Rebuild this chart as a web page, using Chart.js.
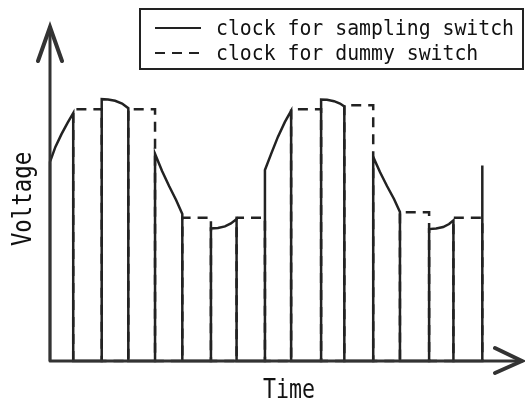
<!DOCTYPE html>
<html>
<head>
    <title>Sampling and dummy switch clocks</title>
    <script src="https://cdn.jsdelivr.net/npm/chart.js"></script>
    <style>
        body { margin: 0; background: #fff; }
    </style>
</head>
<body>
    <canvas id="myChart" width="525" height="404"></canvas>
    <script>
        // sampling switch clock: time points and held voltage of each pulse top
        var samplingTimes = [
            [0, 0.2, 0.43, 0.65, 0.86],
            [1.915, 2.15, 2.41, 2.67, 2.9],
            [3.89, 4.15, 4.41, 4.67, 4.9],
            [5.96, 6.22, 6.48, 6.7, 6.91],
            [7.96, 8.19, 8.44, 8.7, 8.93],
            [10.04, 10.26, 10.52, 10.74, 10.9],
            [11.97, 12.22, 12.48, 12.74, 12.96],
            [14.04, 14.3, 14.56, 14.78, 14.94],
            [16.01]
        ];
        var samplingTops = [
            [5.96, 6.41, 6.8, 7.13, 7.42],
            [7.84, 7.83, 7.79, 7.71, 7.57],
            [6.2, 5.69, 5.24, 4.82, 4.4],
            [3.97, 3.98, 4.03, 4.12, 4.25],
            [5.72, 6.2, 6.71, 7.16, 7.49],
            [7.83, 7.82, 7.78, 7.71, 7.62],
            [6.11, 5.66, 5.24, 4.85, 4.46],
            [3.95, 3.97, 4.01, 4.1, 4.21],
            [5.85]
        ];

        // dummy switch clock: flat pulses
        var dummyStart = [0.86, 2.9, 4.9, 6.91, 8.93, 10.9, 12.96, 14.94];
        var dummyEnd   = [1.915, 3.89, 5.96, 7.96, 10.04, 11.97, 14.04, 16.01];
        var dummyLevel = [7.54, 7.54, 4.29, 4.29, 7.54, 7.66, 4.45, 4.29];

        var seriesLabels = ['clock for sampling switch', 'clock for dummy switch'];
        var axisTitles = { x: 'Time', y: 'Voltage' };
        var timeMax = 17.48, voltMax = 10;

        var samplingData = [];
        samplingTimes.forEach(function(ts, i) {
            samplingData.push({ x: ts[0], y: 0 });
            ts.forEach(function(t, j) { samplingData.push({ x: t, y: samplingTops[i][j] }); });
            if (i < samplingTimes.length - 1) samplingData.push({ x: ts[ts.length - 1], y: 0 });
        });

        var dummyData = [];
        dummyStart.forEach(function(s, i) {
            dummyData.push({ x: s, y: 0 }, { x: s, y: dummyLevel[i] },
                           { x: dummyEnd[i], y: dummyLevel[i] }, { x: dummyEnd[i], y: 0 });
        });

        var ink = '#222';
        var mono = '"DejaVu Sans Mono", "Liberation Mono", monospace';

        function squeezedText(ctx, text, x, y, size, sx, rot) {
            ctx.save();
            ctx.translate(x, y);
            if (rot) ctx.rotate(rot);
            ctx.scale(sx, 1);
            ctx.font = size + 'px ' + mono;
            ctx.fillText(text, 0, 0);
            ctx.restore();
        }

        // axes with arrow heads, axis titles and the boxed legend
        var decor = {
            id: 'decor',
            afterDatasetsDraw: function(chart) {
                var ctx = chart.ctx;
                var xs = chart.scales.x, ys = chart.scales.y;
                var x0 = xs.getPixelForValue(0), y0 = ys.getPixelForValue(0);
                var xEnd = xs.getPixelForValue(timeMax), yEnd = ys.getPixelForValue(voltMax);

                ctx.save();
                ctx.strokeStyle = '#333';
                ctx.lineCap = 'round';
                ctx.lineWidth = 3;
                ctx.beginPath();
                ctx.moveTo(x0, y0); ctx.lineTo(x0, yEnd);
                ctx.moveTo(x0, y0); ctx.lineTo(xEnd, y0);
                ctx.stroke();
                ctx.lineWidth = 4;
                ctx.beginPath();
                ctx.moveTo(x0 - 12, yEnd + 34); ctx.lineTo(x0, yEnd); ctx.lineTo(x0 + 12, yEnd + 34);
                ctx.moveTo(xEnd - 27, y0 - 13); ctx.lineTo(xEnd, y0); ctx.lineTo(xEnd - 27, y0 + 12);
                ctx.stroke();

                ctx.fillStyle = '#111';
                ctx.textAlign = 'center';
                ctx.textBaseline = 'alphabetic';
                squeezedText(ctx, axisTitles.x, (x0 + xEnd) / 2 + 3, 398, 27, 0.8, 0);
                squeezedText(ctx, axisTitles.y, 31, 199, 26, 0.86, -Math.PI / 2);

                // legend
                ctx.lineWidth = 2;
                ctx.strokeStyle = ink;
                ctx.lineCap = 'butt';
                ctx.strokeRect(140, 9, 383, 60);
                var rows = [28, 53];
                chart.data.datasets.forEach(function(ds, i) {
                    ctx.setLineDash(ds.borderDash || []);
                    ctx.lineWidth = 2;
                    ctx.beginPath();
                    ctx.moveTo(155, rows[i]); ctx.lineTo(201, rows[i]);
                    ctx.stroke();
                    ctx.setLineDash([]);
                    ctx.textAlign = 'left';
                    squeezedText(ctx, ds.label, 216, rows[i] + 7, 22, 0.9, 0);
                });
                ctx.restore();
            }
        };

        var ctx = document.getElementById('myChart').getContext('2d');
        var myChart = new Chart(ctx, {
            type: 'line',
            data: {
                datasets: [{
                    label: seriesLabels[0],
                    data: samplingData,
                    borderColor: ink,
                    borderWidth: 2.5,
                    pointRadius: 0,
                    tension: 0,
                    clip: false
                }, {
                    label: seriesLabels[1],
                    data: dummyData,
                    borderColor: ink,
                    borderWidth: 2.5,
                    borderDash: [10, 7],
                    pointRadius: 0,
                    tension: 0,
                    clip: false
                }]
            },
            options: {
                responsive: false,
                animation: false,
                layout: { padding: { left: 50, right: 3, top: 27, bottom: 43 } },
                plugins: { legend: { display: false }, tooltip: { enabled: false } },
                scales: {
                    x: { type: 'linear', min: 0, max: timeMax, display: false },
                    y: { min: 0, max: voltMax, display: false }
                }
            },
            plugins: [decor]
        });
    </script>
</body>
</html>
